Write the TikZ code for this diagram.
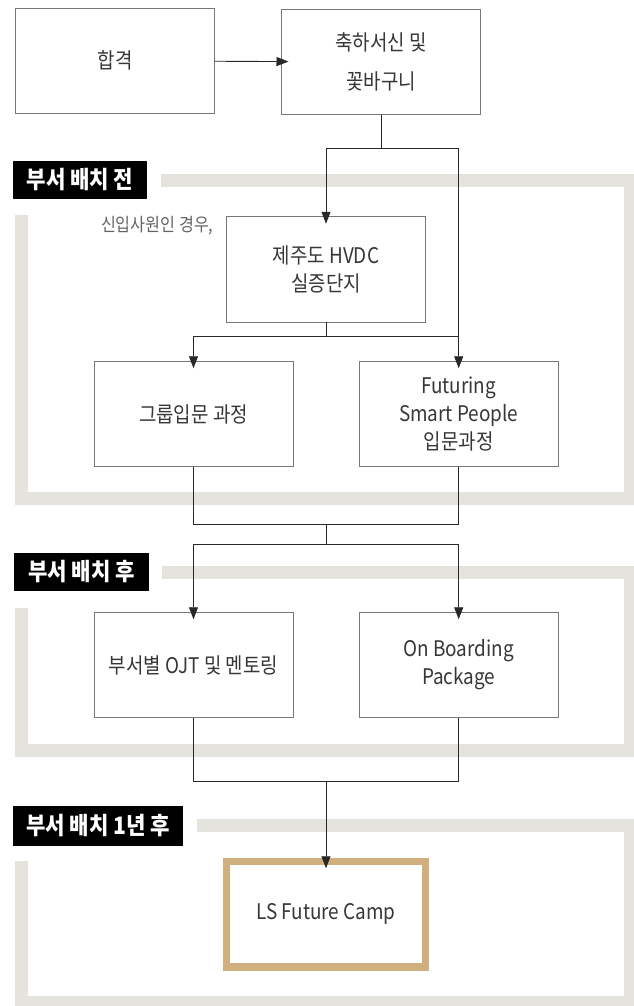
\documentclass[tikz,border=0pt]{standalone}
\usepackage{fontspec}
\setmainfont[FakeStretch=0.88]{Noto Sans CJK KR}
\usetikzlibrary{positioning,arrows.meta}
\definecolor{bandgray}{RGB}{228,227,222}
\definecolor{boxgray}{RGB}{120,120,120}
\definecolor{linegray}{RGB}{40,40,40}
\definecolor{textgray}{RGB}{55,55,55}
\definecolor{notegray}{RGB}{100,100,100}
\definecolor{camptan}{RGB}{209,174,126}

\begin{document}
\begin{tikzpicture}[x=1pt, y=-1pt, font=\fontsize{21.5}{28}\selectfont,
  stepbox/.style={draw=boxgray, line width=0.9pt, fill=white, minimum width=199pt,
    minimum height=105.5pt, inner sep=0pt, outer sep=0pt, align=center, text=textgray},
  band/.style={draw=bandgray, line width=13pt, line join=miter},
  tag/.style={fill=black, text=white, font=\fontsize{24}{24}\selectfont\bfseries,
    inner sep=0pt, minimum height=38pt},
  link/.style={draw=linegray, line width=0.9pt},
  arr/.style={link, -{Triangle[length=12pt, width=9pt]}, shorten >=-7pt}]
\useasboundingbox (0,0) rectangle (634,1006);
% stage frames
\draw[band] (161,180) -- (630.5,180) -- (630.5,498) -- (21.5,498) -- (21.5,215);
\draw[band] (161.7,572.5) -- (630.5,572.5) -- (630.5,750) -- (21.5,750) -- (21.5,607.7);
\draw[band] (196.5,825.5) -- (630.5,825.5) -- (630.5,1002.5) -- (21.5,1002.5) -- (21.5,860.7);
\node[tag, minimum width=134pt] (before) at (80,180) {부서 배치 전};
\node[tag, minimum width=135pt] (after) at (81.5,572) {부서 배치 후};
\node[tag, minimum width=170pt, minimum height=40pt] (year) at (98,826) {부서 배치 1년 후};
% boxes
\node[stepbox] (pass) at (115,60.8) {합격};
\node[stepbox, font=\fontsize{21.5}{39}\selectfont] (letter) at (381,62) {축하서신 및\\꽃바구니};
\node[stepbox] (hvdc) at (326,269.5) {제주도 HVDC\\실증단지};
\node[anchor=east, text=notegray, font=\fontsize{18.4}{18.4}\selectfont] (note) at (217,226) {신입사원인 경우,};
\node[stepbox] (group) at (193.5,414) {그룹입문 과정};
\node[stepbox] (fsp) at (458.7,414) {Futuring\\Smart People\\입문과정};
\node[stepbox] (ojt) at (193.5,665) {부서별 OJT 및 멘토링};
\node[stepbox] (onb) at (458.7,665) {On Boarding\\Package};
\node[stepbox, draw=camptan, line width=7.5pt] (camp) at (326,914) {LS Future Camp};
% connectors
\coordinate (sp1) at (381,148);
\coordinate (sp2) at (326,336.7);
\coordinate (m1) at (326,524.3);
\coordinate (m2) at (326,544.3);
\coordinate (m3) at (326,781.7);
\draw[arr] (pass) -- (letter);
\draw[link] (letter.south) -- (sp1);
\draw[arr] (sp1) -| (hvdc.north);
\draw[arr] (sp1) -| (fsp.north);
\draw[link] (hvdc.south) -- (sp2) -- (sp2 -| fsp.north);
\draw[arr] (sp2) -| (group.north);
\draw[link] (group.south) |- (m1) -| (fsp.south);
\draw[link] (m1) -- (m2);
\draw[arr] (m2) -| (ojt.north);
\draw[arr] (m2) -| (onb.north);
\draw[link] (ojt.south) |- (m3) -| (onb.south);
\draw[arr] (m3) -- (camp.north);
\end{tikzpicture}
\end{document}
